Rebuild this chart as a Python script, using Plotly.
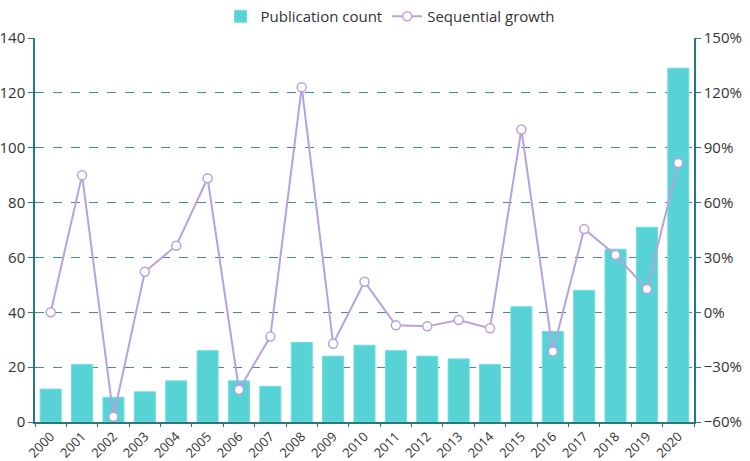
import plotly.graph_objects as go

years = [str(y) for y in range(2000, 2021)]
counts = [12, 21, 9, 11, 15, 26, 15, 13, 29, 24, 28, 26, 24, 23, 21, 42, 33, 48, 63, 71, 129]
growth = [0, 75, -57.1, 22.2, 36.4, 73.3, -42.3, -13.3, 123.1, -17.2, 16.7, -7.1, -7.7, -4.2, -8.7,
          100, -21.4, 45.5, 31.3, 12.7, 81.7]

axis_col = "#27787f"
grid_col = "#3f8f95"
bar_col = "#57d3d6"
line_col = "#b7a2df"
font_fam = "Open Sans, Noto Sans, sans-serif"

fig = go.Figure()
fig.add_trace(go.Bar(
    x=years, y=counts, name="Publication count",
    marker=dict(color=bar_col, line=dict(color="#6fdde0", width=1)),
    yaxis="y",
))
fig.add_trace(go.Scatter(
    x=years, y=growth, name="Sequential growth", mode="lines+markers",
    line=dict(color=line_col, width=2),
    marker=dict(symbol="circle", size=9, color="white", line=dict(color=line_col, width=1.5)),
    yaxis="y2", cliponaxis=False,
))

fig.update_layout(
    width=750, height=461,
    margin=dict(l=35, r=56, t=38, b=39, autoexpand=False),
    plot_bgcolor="white", paper_bgcolor="white",
    font=dict(family=font_fam, size=14, color="#333333"),
    bargap=0.33,
    legend=dict(orientation="h", xref="container", yref="container",
                x=0.52, xanchor="center", y=1.0, yanchor="top",
                font=dict(size=15), itemwidth=30, traceorder="normal"),
    xaxis=dict(
        type="category", range=[-0.5, 20.5], tickangle=-45, tickson="boundaries",
        ticks="outside", ticklen=3, tickcolor=axis_col,
        showline=True, linecolor=axis_col, linewidth=1.5,
        showgrid=False, automargin=False, tickfont=dict(size=13),
    ),
    yaxis=dict(
        range=[0, 140], dtick=20, ticks="outside", ticklen=5, tickcolor=axis_col,
        showline=True, linecolor=axis_col, linewidth=1.5,
        showgrid=True, gridcolor=grid_col, griddash="dash", gridwidth=1,
        zeroline=False, automargin=False, tickfont=dict(size=15),
    ),
    yaxis2=dict(
        overlaying="y", side="right", range=[-60, 150], dtick=30, ticksuffix="%",
        ticks="outside", ticklen=5, tickcolor=axis_col,
        showline=True, linecolor=axis_col, linewidth=1.5,
        showgrid=False, zeroline=False, automargin=False, tickfont=dict(size=15),
    ),
)

fig.write_html("out.html", config={"displayModeBar": False},
               post_script="document.body.style.margin='0px';")
